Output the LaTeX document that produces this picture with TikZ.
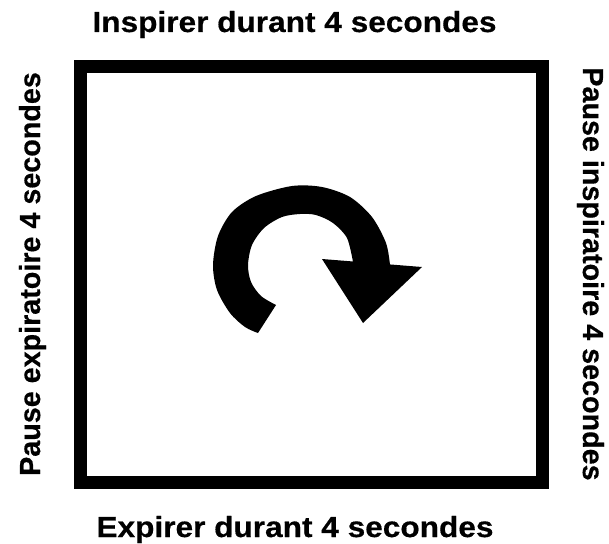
\documentclass[tikz,border=0pt]{standalone}
\usepackage{fontspec}
\newfontfamily\lblfont[FakeStretch=1.09,FakeBold=0.5]{Liberation Sans}
\newfontfamily\sidefont[FakeStretch=0.99,FakeBold=0.5]{Liberation Sans}
\usetikzlibrary{positioning}

\begin{document}
\begin{tikzpicture}[
  x=1pt,y=-1pt,
  lbl/.style={font=\lblfont\bfseries\fontsize{29}{32}\selectfont,inner sep=0pt,anchor=base},
  sidelbl/.style={lbl,font=\sidefont\bfseries\fontsize{29}{32}\selectfont},
  frame/.style={draw,line width=13pt,inner sep=0pt,minimum width=462.5pt,minimum height=416pt}
]
\useasboundingbox (0,0) rectangle (609,543);
% ---- square ----
\node[frame] (square) at (311.25,274) {};

% ---- labels round the square ----
\node[lbl] (inhale)  at (294.5,32)  {Inspirer durant 4 secondes};
\node[lbl] (exhale)  at (295,537)   {Expirer durant 4 secondes};
\node[sidelbl,rotate=90]  (pauseout) at (40,274)  {Pause expiratoire 4 secondes};
\node[sidelbl,rotate=-90] (pausein)  at (583,274) {Pause inspiratoire 4 secondes};

% ---- round arrow ----
\fill plot[smooth] coordinates {(258,333) (245,327) (230,313) (217,290) (213,265)
    (218,236) (232,212) (256,196) (292,186) (322,187) (350,197) (372,217)
    (386,243) (390,265)}
  -- (353,262)
  -- plot[smooth] coordinates {(353,262) (347,238) (333,223) (316,215) (300,214)
    (282,217) (264,228) (252,245) (248,265) (251,282) (261,296) (276,305)}
  -- cycle;
\fill (322,259) -- (422,267) -- (363,323) -- cycle;
\end{tikzpicture}
\end{document}
